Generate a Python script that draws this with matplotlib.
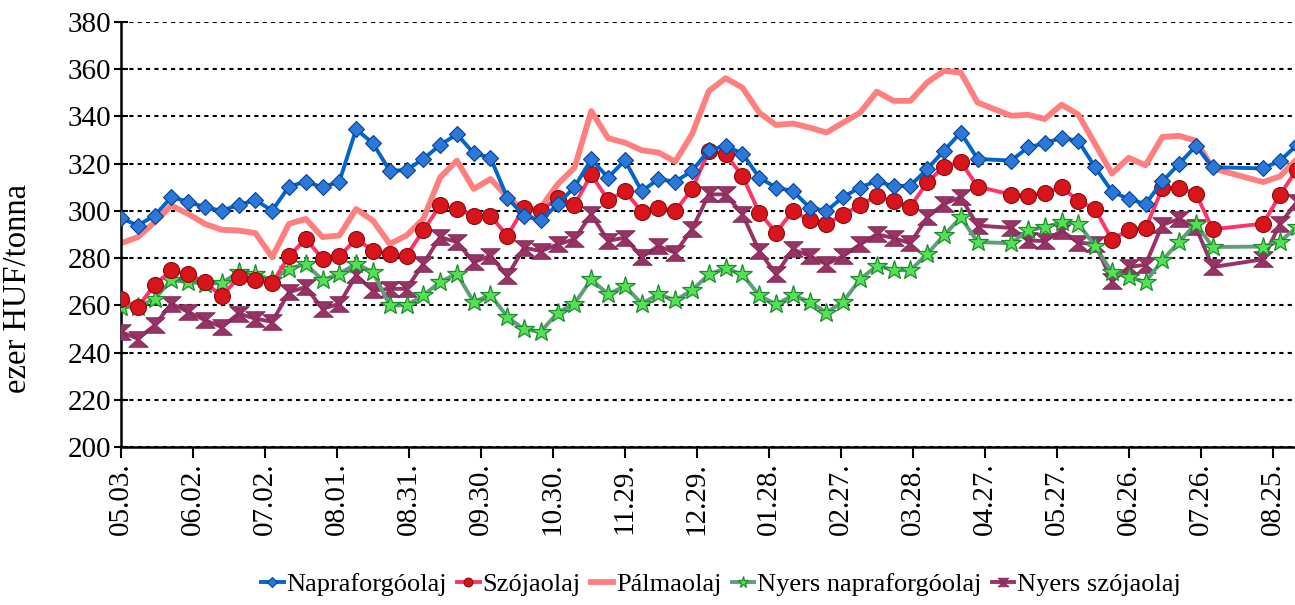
import numpy as np
import pandas as pd
import matplotlib
matplotlib.use("Agg")
import matplotlib.pyplot as plt
import matplotlib.dates as mdates
from matplotlib.path import Path

# ---------------- data ----------------
all_weeks = pd.date_range("2011-05-03", periods=71, freq="7D")
missing_weeks = pd.to_datetime(["2012-05-01", "2012-08-07", "2012-08-14"])
dates = all_weeks[~all_weeks.isin(missing_weeks)]

napraforgoolaj = [
    297.0, 293.8, 298.0, 305.8, 303.9, 301.5, 300.1, 302.5, 304.6, 300.1, 310.3, 312.4,
    310.0, 312.4, 334.6, 328.6, 317.0, 317.3, 322.0, 327.9, 332.5, 324.4, 322.5,
    305.6, 297.9, 296.0, 302.8, 310.1, 321.9, 314.1, 321.4, 308.4, 313.4, 312.4, 316.9,
    325.7, 327.5, 324.3, 314.1, 309.9, 308.4, 301.4, 300.0, 305.9, 309.9, 312.7, 310.4,
    310.7, 317.7, 325.5, 333.2, 322.0,
    321.3, 326.9, 328.6, 331.0, 329.6, 318.5, 308.2, 305.0, 302.9, 312.5, 319.9, 327.5, 318.5,
    318.0, 321.2, 327.8]
szojaolaj = [
    262.5, 259.3, 268.7, 274.8, 273.1, 269.9, 263.8, 272.0, 270.6, 269.4, 280.8, 288.2,
    279.7, 280.7, 288.2, 283.2, 281.8, 281.1, 291.7, 302.3, 300.8, 298.0, 298.0,
    289.4, 301.4, 300.0, 305.6, 302.5, 315.5, 304.5, 308.4, 299.7, 301.4, 300.0, 309.2,
    325.4, 324.0, 314.8, 299.3, 290.8, 300.0, 296.0, 294.6, 298.3, 302.5, 306.3, 304.0,
    301.8, 312.1, 318.7, 320.8, 310.3,
    306.9, 306.5, 307.5, 310.0, 304.3, 300.7, 287.8, 292.0, 292.7, 309.5, 309.8, 307.3, 292.2,
    294.6, 306.7, 317.5]
palmaolaj = [
    286.3, 288.9, 295.2, 302.3, 298.7, 294.5, 292.0, 291.7, 290.6, 280.4, 294.5, 296.6,
    288.9, 289.6, 300.8, 295.9, 286.0, 289.6, 296.6, 314.2, 321.3, 309.3, 313.5,
    306.0, 300.0, 301.4, 311.3, 318.3, 342.3, 330.8, 328.9, 325.7, 324.7, 320.9, 332.5,
    350.8, 356.2, 352.2, 341.6, 336.4, 337.0, 335.3, 333.2, 337.4, 341.6, 350.5, 346.6,
    346.6, 354.4, 359.3, 358.6, 345.9,
    340.3, 340.7, 338.9, 345.0, 340.8, 328.3, 315.8, 322.5, 319.3, 331.3, 331.8, 329.7, 318.0,
    312.2, 314.6, 321.8]
nyers_napraforgoolaj = [
    259.3, 259.3, 262.8, 270.6, 269.9, 269.2, 269.4, 274.1, 273.4, 270.6, 275.5, 277.6,
    270.6, 273.4, 277.6, 274.1, 260.0, 260.0, 264.2, 269.9, 273.4, 261.4, 264.5,
    255.1, 249.8, 248.9, 256.9, 260.7, 271.0, 264.7, 268.2, 260.7, 264.7, 262.1, 266.4,
    273.1, 275.7, 273.1, 264.2, 260.4, 264.2, 261.6, 256.9, 261.6, 271.0, 276.7, 275.0,
    274.8, 281.8, 289.6, 297.3, 286.8,
    286.3, 291.7, 293.1, 295.2, 294.6, 285.1, 274.0, 272.0, 269.9, 279.1, 286.9, 294.6, 284.7,
    284.9, 287.0, 293.0]
nyers_szojaolaj = [
    248.7, 245.9, 251.5, 260.7, 257.2, 253.7, 250.8, 256.5, 254.4, 253.0, 265.6, 267.7,
    258.5, 260.7, 272.7, 266.3, 267.0, 267.0, 277.6, 288.9, 286.8, 278.3, 281.0,
    272.4, 284.4, 283.0, 285.8, 288.0, 298.6, 287.3, 288.7, 280.5, 285.1, 282.3, 292.2,
    307.0, 307.0, 298.6, 283.0, 273.1, 283.7, 280.9, 277.4, 280.9, 285.8, 290.1, 288.5,
    286.3, 297.3, 303.0, 305.8, 293.8,
    292.8, 287.5, 287.2, 291.6, 286.5, 286.0, 270.2, 276.2, 277.2, 294.1, 296.6, 293.0, 276.2,
    279.5, 294.5, 303.6]

series_names = ["Napraforgóolaj", "Szójaolaj", "Pálmaolaj",
                "Nyers napraforgóolaj", "Nyers szójaolaj"]
y_label = "ezer HUF/tonna"
tick_start = "2011-05-03"
tick_end = "2012-08-25"

# ---------------- style ----------------
plt.rcParams["font.family"] = ["Liberation Serif", "DejaVu Serif"]

hourglass = Path([(-1.0, 0.8), (1.0, 0.8), (0.12, 0.0), (1.0, -0.8),
                  (-1.0, -0.8), (-0.12, 0.0), (-1.0, 0.8)],
                 [Path.MOVETO] + [Path.LINETO] * 5 + [Path.CLOSEPOLY])

W, H = 1295, 605
fig = plt.figure(figsize=(W / 100, H / 100), dpi=100)
ax = fig.add_axes([121 / W, 1 - 447 / H, (W - 121) / W, (447 - 22) / H])

ax.plot(dates, palmaolaj, color="#FF7F7F", lw=4.2, zorder=2,
        label=series_names[2], solid_joinstyle="round")
ax.plot(dates, nyers_szojaolaj, color="#993366", lw=2.8, zorder=3,
        marker=hourglass, ms=14, mfc="#993366", mec="#7A2350", mew=0.6,
        label=series_names[4])
ax.plot(dates, nyers_napraforgoolaj, color="#5E9E78", lw=2.8, zorder=4,
        marker="*", ms=15, mfc="#55E055", mec="#1E8C2E", mew=0.9,
        label=series_names[3])
ax.plot(dates, szojaolaj, color="#FF3366", lw=2.8, zorder=5,
        marker="o", ms=11.5, mfc="#D8141C", mec="#8E0A0A", mew=0.8,
        label=series_names[1])
ax.plot(dates, napraforgoolaj, color="#0066CC", lw=2.8, zorder=6,
        marker="D", ms=8.5, mfc="#2A78D8", mec="#0B3F92", mew=0.8,
        label=series_names[0])

# axes limits and ticks
t0 = pd.Timestamp(tick_start)
ax.set_xlim(mdates.date2num(t0), mdates.date2num(t0) + 489.3)
ax.set_ylim(200, 380)
ax.set_yticks(np.arange(200, 381, 20))
xt = pd.date_range(tick_start, tick_end, freq="30D")
ax.set_xticks(mdates.date2num(xt))
ax.set_xticklabels([d.strftime("%m.%d.") for d in xt], rotation=90)

ax.tick_params(axis="y", direction="inout", length=10, width=1.5,
               labelsize=21, pad=2)
ax.tick_params(axis="x", direction="out", length=8, width=1.5,
               labelsize=21, pad=3)

ax.grid(axis="y", color="black", linestyle=(0, (2, 2)), linewidth=1.5, zorder=1)
ax.set_axisbelow(True)
for s in ["top", "right"]:
    ax.spines[s].set_visible(False)
ax.spines["left"].set_linewidth(1.8)
ax.spines["bottom"].set_linewidth(1.8)

fig.text(18 / W, 1 - 288 / H, y_label, rotation=90, ha="center", va="center",
         fontsize=23.5)

handles, labels = ax.get_legend_handles_labels()
order = [labels.index(n) for n in series_names]
fig.legend([handles[i] for i in order], [labels[i] for i in order],
           loc="center", bbox_to_anchor=(721 / W, 1 - 584 / H), ncol=5,
           frameon=False, fontsize=19, handlelength=0.85, handletextpad=0.1,
           columnspacing=0.4, markerscale=0.55)

fig.savefig("out.png", dpi=100)
